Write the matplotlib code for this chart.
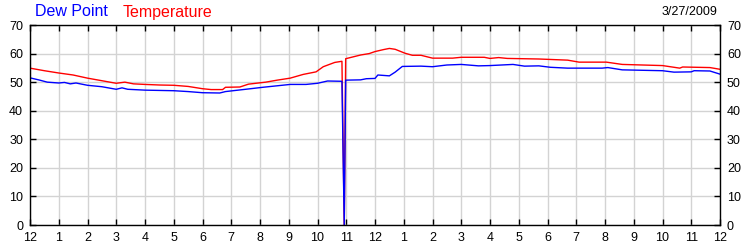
import matplotlib.pyplot as plt

# hours since midnight and readings (F)
temp_hours = [0, 0.5, 1.0, 1.5, 2.0, 2.5, 3.0, 3.3, 3.6, 4.0, 4.5, 5.0, 5.5, 6.0, 6.3, 6.7, 6.8,
              7.3, 7.6, 8.2, 8.6, 9.05, 9.5, 9.95, 10.2, 10.6, 10.85, 10.93, 10.98, 11.1, 11.5,
              11.8, 12.0, 12.3, 12.5, 12.7, 13.05, 13.3, 13.6, 14.0, 14.7, 15.0, 15.8, 16.0,
              16.3, 16.6, 17.7, 18.7, 19.1, 20.05, 20.6, 22.0, 22.6, 22.7, 23.65, 24.0]
temp = [54.9, 54.0, 53.2, 52.5, 51.4, 50.5, 49.6, 50.0, 49.4, 49.2, 49.0, 48.9, 48.5, 47.7,
        47.4, 47.4, 48.2, 48.3, 49.3, 50.0, 50.7, 51.4, 52.7, 53.6, 55.4, 56.9, 57.3, 0,
        58.2, 58.5, 59.5, 60.0, 60.7, 61.4, 61.8, 61.5, 60.1, 59.4, 59.4, 58.4, 58.4, 58.7,
        58.7, 58.3, 58.6, 58.3, 58.1, 57.7, 57.0, 57.0, 56.2, 55.8, 54.9, 55.3, 55.1, 54.5]

dew_hours = [0, 0.3, 0.6, 1.0, 1.2, 1.4, 1.6, 2.0, 2.5, 3.0, 3.2, 3.4, 4.0, 5.0, 5.5, 6.0,
             6.6, 6.8, 7.5, 8.1, 9.05, 9.6, 10.0, 10.35, 10.85, 10.93, 10.98, 11.5, 11.7,
             12.0, 12.1, 12.5, 12.7, 12.95, 13.6, 14.0, 14.5, 15.0, 15.6, 16.0, 16.8, 17.2,
             17.7, 18.1, 18.7, 19.9, 20.1, 20.6, 22.0, 22.4, 23.0, 23.1, 23.65, 24.0]
dew = [51.5, 50.8, 50.0, 49.7, 49.9, 49.4, 49.7, 48.9, 48.4, 47.5, 48.0, 47.5, 47.2, 47.0,
       46.7, 46.3, 46.2, 46.7, 47.5, 48.2, 49.2, 49.2, 49.6, 50.4, 50.3, 0, 50.7, 50.8,
       51.2, 51.3, 52.5, 52.2, 53.5, 55.5, 55.6, 55.4, 56.0, 56.2, 55.7, 55.8, 56.2, 55.6,
       55.7, 55.2, 54.9, 54.9, 55.1, 54.3, 54.0, 53.5, 53.6, 54.0, 53.9, 52.8]

hour_labels = ["12", "1", "2", "3", "4", "5", "6", "7", "8", "9", "10", "11",
               "12", "1", "2", "3", "4", "5", "6", "7", "8", "9", "10", "11", "12"]
date_text = "3/27/2009"

plt.rcParams['font.family'] = ['Liberation Sans', 'DejaVu Sans']

fig = plt.figure(figsize=(7.5, 2.5), dpi=100)
ax = fig.add_axes([0.04, 0.1, 0.92, 0.8])

ax.plot(temp_hours, temp, color="red", linewidth=1)
ax.plot(dew_hours, dew, color="blue", linewidth=1)

ax.set_xlim(0, 24)
ax.set_ylim(0, 70)
ax.set_xticks(range(25))
ax.set_xticklabels(hour_labels)
ax.set_yticks(range(0, 71, 10))
ax.grid(True, color="#d3d3d3", linewidth=1)
ax.set_axisbelow(True)
ax.tick_params(direction="in", length=4, width=1, top=True, right=True,
               labelright=True, labelsize=9, pad=5, colors="black")
for s in ax.spines.values():
    s.set_linewidth(1)

fig.text(35 / 750, 1 - 12 / 250, "Dew Point", color="blue", fontsize=11.5, va="center")
fig.text(123 / 750, 1 - 12 / 250, "Temperature", color="red", fontsize=11.5, va="center")
fig.text(717 / 750, 1 - 12 / 250, date_text, color="black", fontsize=9, va="center", ha="right")

plt.savefig("out.png", dpi=100)
plt.close()
